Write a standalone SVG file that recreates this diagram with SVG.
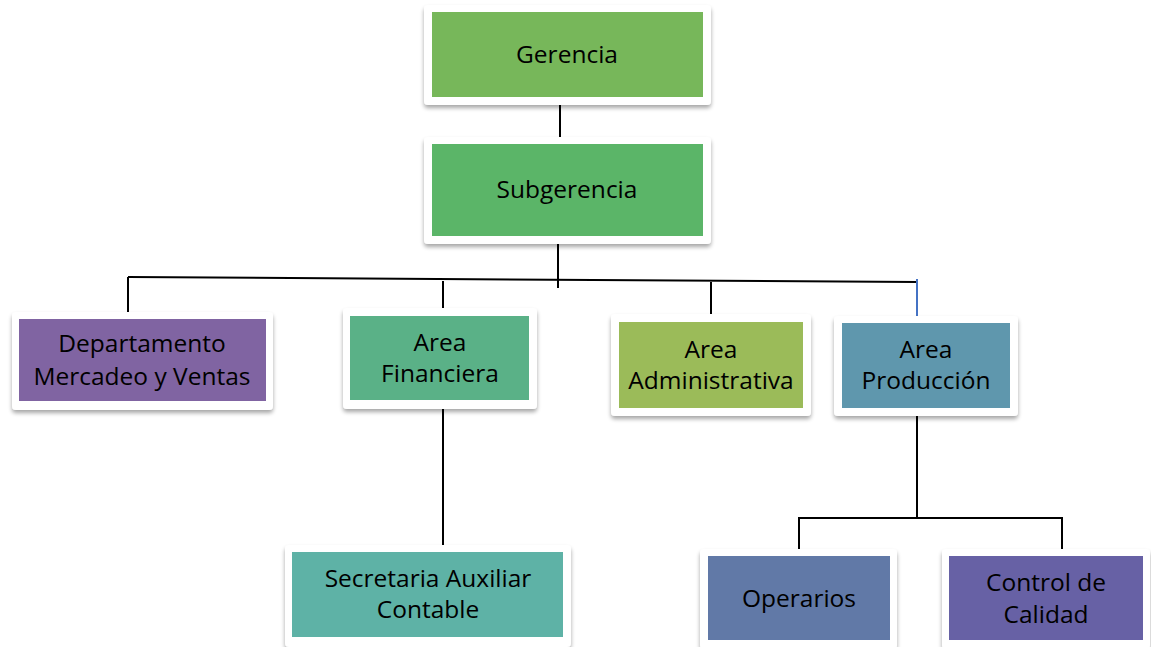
<svg xmlns="http://www.w3.org/2000/svg" width="1151" height="647" viewBox="0 0 1151 647">
<defs>
<filter id="sh" x="-10%" y="-10%" width="120%" height="130%">
<feGaussianBlur in="SourceAlpha" stdDeviation="2"/>
<feOffset dx="0" dy="3" result="b"/>
<feComponentTransfer><feFuncA type="linear" slope="0.35"/></feComponentTransfer>
<feMerge><feMergeNode/><feMergeNode in="SourceGraphic"/></feMerge>
</filter>
</defs>
<style>
.frame{fill:#ffffff;filter:url(#sh)}
.t{font-family:"Open Sans","Liberation Sans",sans-serif;font-size:24.5px;fill:#000;text-anchor:middle}
.c{stroke:#000;stroke-width:2;fill:none}
</style>
<rect width="1151" height="647" fill="#ffffff"/>
<g id="connectors">
<line class="c" x1="560" y1="105" x2="560" y2="139"/>
<line class="c" x1="558" y1="244" x2="558" y2="288"/>
<line class="c" x1="128" y1="277" x2="917" y2="282"/>
<line class="c" x1="128" y1="277" x2="128" y2="316"/>
<line class="c" x1="443" y1="281" x2="443" y2="312"/>
<line class="c" x1="711" y1="282" x2="711" y2="318"/>
<line x1="917" y1="279" x2="917" y2="316" stroke="#4472C4" stroke-width="2"/>
<line class="c" x1="443" y1="409" x2="443" y2="548"/>
<line class="c" x1="917" y1="416" x2="917" y2="518"/>
<polyline class="c" points="799,552 799,518 1062,518 1062,552"/>
</g>
<g id="gerencia">
<rect class="frame" x="424" y="5" width="287" height="100" rx="4"/>
<rect x="432" y="12" width="271" height="85" fill="#77B75A"/>
<text class="t" x="567" y="63">Gerencia</text>
</g>
<g id="subgerencia">
<rect class="frame" x="424" y="137" width="287" height="107" rx="4"/>
<rect x="432" y="144" width="271" height="92" fill="#5BB568"/>
<text class="t" x="567" y="198">Subgerencia</text>
</g>
<g id="departamento">
<rect class="frame" x="12" y="312" width="261" height="98" rx="4"/>
<rect x="19" y="319" width="247" height="82" fill="#8064A2"/>
<text class="t" x="142" y="352">Departamento</text>
<text class="t" x="142" y="385">Mercadeo y Ventas</text>
</g>
<g id="financiera">
<rect class="frame" x="343" y="308" width="194" height="101" rx="4"/>
<rect x="350" y="316" width="179" height="84" fill="#5AB187"/>
<text class="t" x="440" y="351">Area</text>
<text class="t" x="440" y="382">Financiera</text>
</g>
<g id="administrativa">
<rect class="frame" x="611" y="314" width="200" height="102" rx="4"/>
<rect x="619" y="322" width="184" height="86" fill="#9BBB59"/>
<text class="t" x="711" y="358">Area</text>
<text class="t" x="711" y="389">Administrativa</text>
</g>
<g id="produccion">
<rect class="frame" x="834" y="316" width="184" height="100" rx="4"/>
<rect x="842" y="323" width="168" height="85" fill="#5F97AD"/>
<text class="t" x="926" y="358">Area</text>
<text class="t" x="926" y="389">Producción</text>
</g>
<g id="secretaria">
<rect class="frame" x="285" y="545" width="286" height="102" rx="4"/>
<rect x="292" y="552" width="271" height="85" fill="#5EB2A6"/>
<text class="t" x="428" y="587">Secretaria Auxiliar</text>
<text class="t" x="428" y="618">Contable</text>
</g>
<g id="operarios">
<rect class="frame" x="700" y="549" width="197" height="100" rx="4"/>
<rect x="708" y="556" width="182" height="84" fill="#6179A7"/>
<text class="t" x="799" y="607">Operarios</text>
</g>
<g id="calidad">
<rect class="frame" x="942" y="549" width="208" height="100" rx="4"/>
<rect x="949" y="556" width="194" height="84" fill="#6761A5"/>
<text class="t" x="1046" y="591">Control de</text>
<text class="t" x="1046" y="623">Calidad</text>
</g>
</svg>
